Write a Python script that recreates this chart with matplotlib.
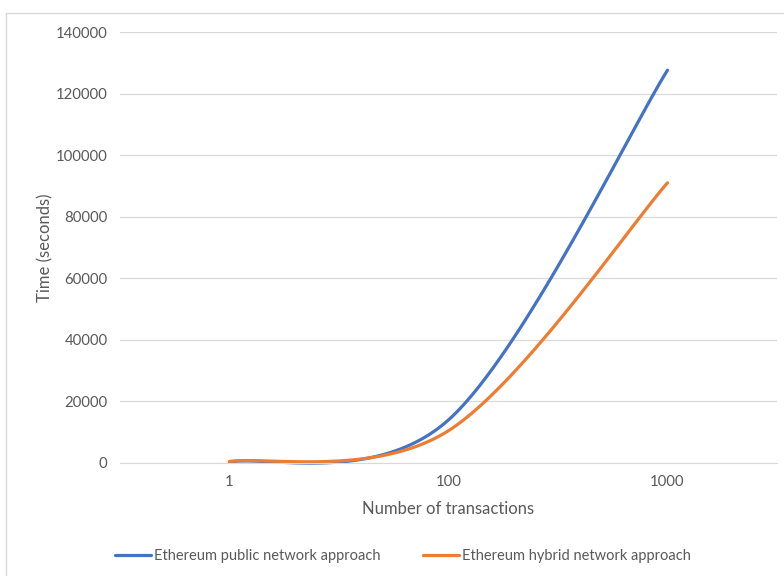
import numpy as np
import matplotlib.pyplot as plt
from matplotlib.lines import Line2D

plt.rcParams['font.family'] = ['Lato', 'DejaVu Sans']

# Datos
categorias = ["1", "100", "1000"]
tiempo_publica = [300, 14000, 127600]
tiempo_hibrida = [500, 10500, 91000]
etiquetas = ["Ethereum public network approach", "Ethereum hybrid network approach"]
colores = ["#4472C4", "#ED7D31"]


def suavizar(xs, ys, sx, sy, k=1 / 6, n=60):
    """Curva Bezier tipo Excel (linea suavizada), calculada en escala de pixeles"""
    P = np.column_stack([np.asarray(xs, float) * sx, np.asarray(ys, float) * sy])
    m = len(P)
    curva = []
    for i in range(m - 1):
        p0 = P[i - 1] if i > 0 else P[i]
        p1, p2 = P[i], P[i + 1]
        p3 = P[i + 2] if i + 2 < m else P[i + 1]
        c1 = p1 + (p2 - p0) * k
        c2 = p2 - (p3 - p1) * k
        t = np.linspace(0, 1, n)[:, None]
        seg = (1 - t) ** 3 * p1 + 3 * (1 - t) ** 2 * t * c1 + 3 * (1 - t) * t ** 2 * c2 + t ** 3 * p2
        curva.append(seg if i == 0 else seg[1:])
    curva = np.vstack(curva)
    return curva[:, 0] / sx, curva[:, 1] / sy


fig = plt.figure(figsize=(7.84, 5.76), dpi=100)
ax = fig.add_axes([120 / 784, 1 - 463 / 576, 657 / 784, 431 / 576])

x = np.arange(len(categorias))
sx = 219.0
sy = 431.0 / 140000
for serie, color, etiqueta in zip([tiempo_publica, tiempo_hibrida], colores, etiquetas):
    xx, yy = suavizar(x, serie, sx, sy)
    ax.plot(xx, yy, color=color, lw=2.3, solid_capstyle="round", label=etiqueta, clip_on=False)

ax.set_xlim(-0.5, len(categorias) - 0.5)
ax.set_ylim(0, 140000)
ax.set_yticks(np.arange(0, 140001, 20000))
ax.set_xticks(x)
ax.set_xticklabels(categorias)
ax.grid(axis="y", color="#d9d9d9", lw=0.9)
ax.set_axisbelow(True)
for lado in ["top", "right", "left"]:
    ax.spines[lado].set_visible(False)
ax.spines["bottom"].set_color("#d9d9d9")
ax.tick_params(length=0, colors="#595959", labelsize=10.7)
ax.tick_params(axis="x", pad=9)
ax.tick_params(axis="y", pad=9)

ax.set_xlabel("Number of transactions", color="#595959", fontsize=12, labelpad=8)
ax.set_ylabel("Time (seconds)", color="#595959", fontsize=12, labelpad=2)

fig.legend(loc="center", bbox_to_anchor=(403 / 784, 1 - 556 / 576), ncol=2, frameon=False,
           fontsize=10.5, handlelength=2.5, columnspacing=2.9, handletextpad=0.2,
           labelcolor="#595959")

# Borde del area del grafico
fig.add_artist(Line2D([6 / 784, 6 / 784], [0, 1 - 13 / 576], color="#d9d9d9", lw=1))
fig.add_artist(Line2D([6 / 784, 1], [1 - 13 / 576, 1 - 13 / 576], color="#d9d9d9", lw=1))

fig.savefig("out.png", dpi=100)
